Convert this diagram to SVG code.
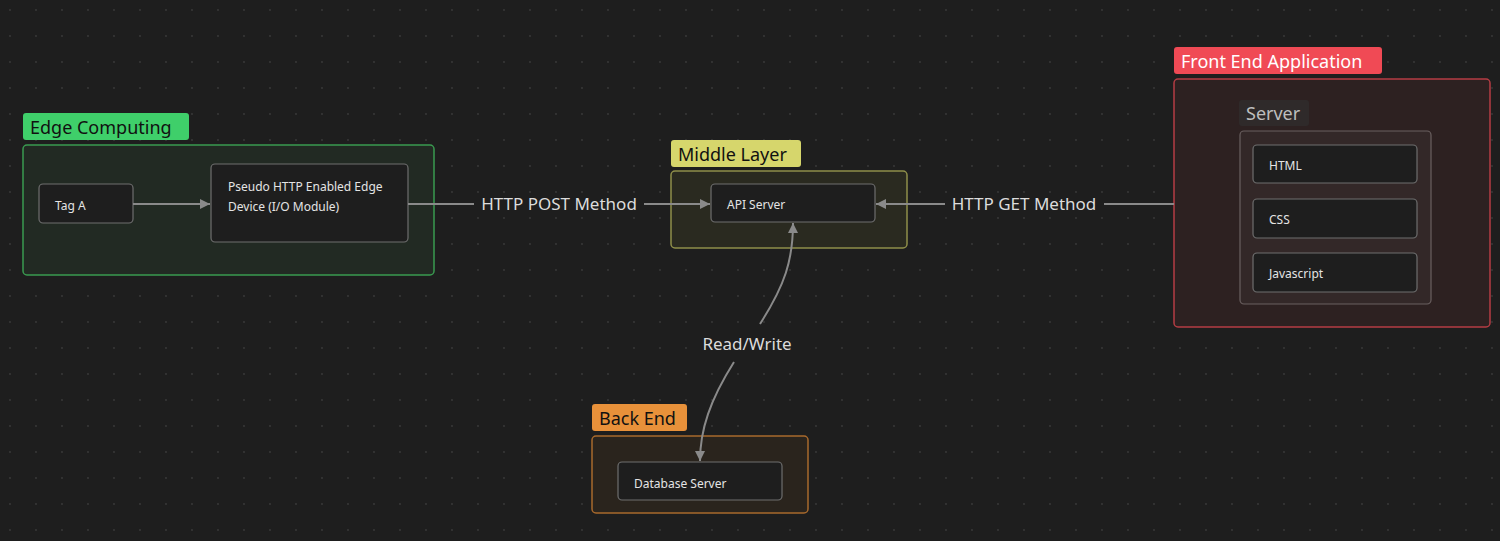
<svg xmlns="http://www.w3.org/2000/svg" width="1500" height="541" viewBox="0 0 1500 541">
<style>
.lbl{font-family:"Segoe UI","Noto Sans","Liberation Sans",sans-serif}
.node{fill:#1e1e1e;stroke:#6e6e6e;stroke-width:1.2}
.nt{font-family:"Segoe UI","Noto Sans","Liberation Sans",sans-serif;font-size:12px;fill:#e4e4e4}
.gl{font-family:"Segoe UI","Noto Sans","Liberation Sans",sans-serif;font-size:18px}
.edge{fill:none;stroke:#8a8a8a;stroke-width:2}
.el{font-family:"Segoe UI","Noto Sans","Liberation Sans",sans-serif;font-size:17px;fill:#dcdcdc;text-anchor:middle}
</style>
<defs>
<pattern id="dots" width="26" height="26" patternUnits="userSpaceOnUse" x="-3" y="-3">
<circle cx="13" cy="13" r="0.9" fill="#3a3a3a"/>
</pattern>
<marker id="arr" viewBox="0 0 10 10" refX="10" refY="5" markerWidth="5" markerHeight="5" orient="auto-start-reverse">
<path d="M0,0 L10,5 L0,10 z" fill="#8a8a8a"/>
</marker>
</defs>
<rect width="1500" height="541" fill="#1e1e1e"/>
<rect width="1500" height="541" fill="url(#dots)"/>

<g id="edge-computing">
<rect x="23" y="145" width="411" height="130" rx="4" fill="#222a23" stroke="#3a9a50" stroke-width="1.5"/>
<rect x="23" y="113" width="166" height="27" rx="3" fill="#3fcf6a"/>
<text x="30" y="134" class="gl" fill="#111">Edge Computing</text>
</g>
<g id="middle-layer">
<rect x="671" y="171" width="236" height="77" rx="4" fill="#2a2a20" stroke="#8f8f4a" stroke-width="1.5"/>
<rect x="671" y="140" width="130" height="27" rx="3" fill="#d6d66c"/>
<text x="678" y="161" class="gl" fill="#111">Middle Layer</text>
</g>
<g id="front-end">
<rect x="1174" y="79" width="316" height="248" rx="4" fill="#2d2121" stroke="#b53d44" stroke-width="1.5"/>
<rect x="1174" y="47" width="208" height="27" rx="3" fill="#f04a55"/>
<text x="1181" y="68" class="gl" fill="#fff">Front End Application</text>
</g>
<g id="server">
<rect x="1240" y="131" width="191" height="173" rx="4" fill="#332828" stroke="#6a6060" stroke-width="1.2"/>
<rect x="1239" y="100" width="70" height="26" rx="3" fill="#2f2a2a"/>
<text x="1246" y="120" class="gl" fill="#bdbdbd">Server</text>
</g>
<g id="back-end">
<rect x="592" y="436" width="216" height="77" rx="4" fill="#2a241d" stroke="#a8692c" stroke-width="1.5"/>
<rect x="592" y="404" width="95" height="27" rx="3" fill="#e8913a"/>
<text x="599" y="425" class="gl" fill="#111">Back End</text>
</g>

<g id="tag-a"><rect class="node" x="39" y="184" width="94" height="39" rx="4"/><text class="nt" x="55" y="210">Tag A</text></g>
<g id="pseudo"><rect class="node" x="211" y="164" width="197" height="78" rx="4"/><text class="nt" x="228" y="191">Pseudo HTTP Enabled Edge</text><text class="nt" x="228" y="211">Device (I/O Module)</text></g>
<g id="api-server"><rect class="node" x="711" y="184" width="164" height="38" rx="4"/><text class="nt" x="727" y="209">API Server</text></g>
<g id="html"><rect class="node" x="1253" y="145" width="164" height="38" rx="4"/><text class="nt" x="1269" y="170">HTML</text></g>
<g id="css"><rect class="node" x="1253" y="199" width="164" height="39" rx="4"/><text class="nt" x="1269" y="224">CSS</text></g>
<g id="javascript"><rect class="node" x="1253" y="253" width="164" height="39" rx="4"/><text class="nt" x="1269" y="278">Javascript</text></g>
<g id="database"><rect class="node" x="618" y="462" width="164" height="38" rx="4"/><text class="nt" x="634" y="488">Database Server</text></g>

<g id="connectors">
<path class="edge" d="M133,204 H210" marker-end="url(#arr)"/>
<path class="edge" d="M408,204 H474 M644,204 H710" marker-end="url(#arr)"/>
<path class="edge" d="M1174,204 H1104 M945,204 H876" marker-end="url(#arr)"/>
<path class="edge" d="M760,324 C785,285 793,260 793,223" marker-end="url(#arr)"/>
<path class="edge" d="M734,362 C710,400 700,430 700,461" marker-end="url(#arr)"/>
<text class="el" x="559" y="210">HTTP POST Method</text>
<text class="el" x="1024" y="210">HTTP GET Method</text>
<text class="el" x="747" y="350">Read/Write</text>
</g>
</svg>
